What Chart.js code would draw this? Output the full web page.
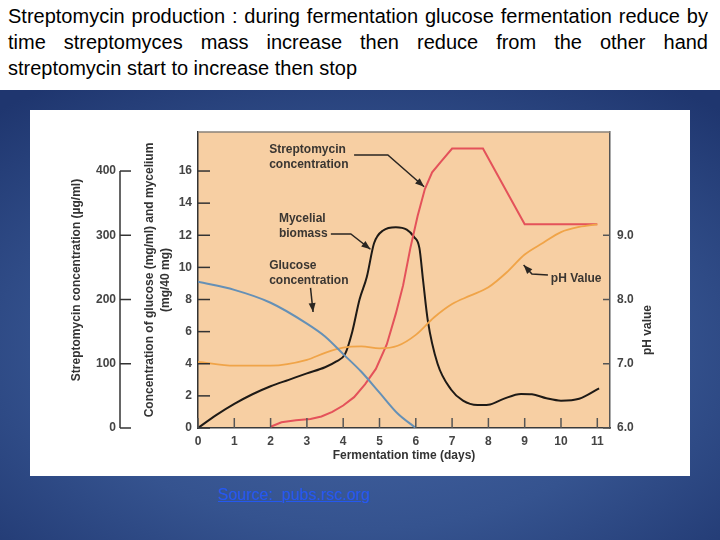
<!DOCTYPE html>
<html>
<head>
<meta charset="utf-8">
<script src="https://cdn.jsdelivr.net/npm/chart.js@4.4.1/dist/chart.umd.min.js"></script>
<style>
  html, body { margin: 0; padding: 0; width: 720px; height: 540px; overflow: hidden; background: #fff; font-family: "Liberation Sans", Arial, sans-serif; }
  #title { position: absolute; left: 8px; top: 3px; width: 700px; font-size: 20px; line-height: 26px; color: #000; }
  #title .j { text-align: justify; text-align-last: justify; }
  #panel { position: absolute; left: 0; top: 90px; width: 720px; height: 450px;
    background: radial-gradient(ellipse 75% 72% at 50% 58%, #4666a6 0%, #35538f 55%, #1f366f 100%); }
  #box { position: absolute; left: 30px; top: 110px; width: 660px; height: 366px; background: #fff; }
  #src { position: absolute; left: 218px; top: 486px; font-size: 16px; color: #2458f0; text-decoration: underline; }
</style>
</head>
<body>
<div id="title">
  <div class="j">Streptomycin production : during fermentation glucose fermentation reduce by</div>
  <div class="j">time streptomyces mass increase then reduce from the other hand</div>
  <div>streptomycin start to increase then stop</div>
</div>
<div id="panel"></div>
<div id="box"><canvas id="chart" width="660" height="366"></canvas></div>
<div id="src">Source:&nbsp; pubs.rsc.org</div>

<script>
// fermentation time (days) and values
const glucoseDays = [0, 1, 2, 3, 3.5, 4, 4.5, 5, 5.5, 6];
const glucose = [9.1, 8.6, 7.8, 6.5, 5.7, 4.6, 3.5, 2.2, 0.9, 0];

const biomassDays = [0, 0.5, 1, 1.5, 2, 2.5, 3, 3.5, 3.8, 4.05, 4.25, 4.45, 4.65, 4.85, 5.1, 5.45, 5.75, 5.95, 6.1, 6.2, 6.33, 6.6, 6.97, 7.3, 7.7, 8, 8.4, 8.9, 9.2, 9.6, 10, 10.5, 11.05];
const biomass = [0, 0.8, 1.5, 2.1, 2.6, 3.0, 3.4, 3.78, 4.13, 4.6, 6.0, 8.0, 9.4, 11.5, 12.3, 12.5, 12.35, 11.9, 11.2, 9.2, 6.7, 4.0, 2.4, 1.7, 1.43, 1.45, 1.8, 2.12, 2.1, 1.85, 1.7, 1.82, 2.47];

const phDays = [0, 1, 2, 3, 3.5, 4, 4.5, 5, 5.5, 6, 6.5, 7, 7.5, 8, 8.5, 9, 9.5, 10, 10.5, 11];
const ph = [7.03, 6.97, 6.97, 7.06, 7.17, 7.25, 7.27, 7.24, 7.28, 7.45, 7.72, 7.93, 8.06, 8.19, 8.42, 8.7, 8.88, 9.05, 9.13, 9.17];

const strepDays = [2.0, 2.3, 2.7, 3.1, 3.4, 3.7, 4.0, 4.3, 4.6, 4.9, 5.2, 5.45, 5.65, 5.85, 6.05, 6.25, 6.45, 6.7, 7.0, 7.85, 9.0, 11.0];
const strep = [2, 9, 12, 14, 18, 25, 35, 48, 68, 92, 130, 178, 222, 280, 330, 372, 398, 415, 435, 435, 317, 317];

// tick labels
const dayTicks = [0, 1, 2, 3, 4, 5, 6, 7, 8, 9, 10, 11];
const glucoseTicks = [0, 2, 4, 6, 8, 10, 12, 14, 16];
const strepTicks = [0, 100, 200, 300, 400];
const phTicks = [6, 7, 8, 9];

// the three y scales share one grid: 16 units = 400 ug/ml, pH = 6 + units/4
const gMax = 18.43;
const strepMax = gMax * 25;
const phMax = 6 + gMax / 4;

// callouts, placed in (day, glucose-scale) units
const notes = [
  { lines: ['Streptomycin', 'concentration'], at: [1.96, 17.31], path: [[4.30, 17.0], [5.23, 17.0], [6.23, 15.02]] },
  { lines: ['Mycelial', 'biomass'], at: [2.23, 13.01], path: [[3.66, 12.08], [4.21, 12.08], [4.75, 11.13]] },
  { lines: ['Glucose', 'concentration'], at: [1.96, 10.09], path: [[3.10, 8.72], [3.17, 7.22]] },
  { lines: ['pH Value'], at: [9.72, 9.28], path: [[9.64, 9.53], [9.20, 9.59], [8.97, 10.15]] }
];

const pts = (xs, ys) => xs.map((d, i) => ({ x: d, y: ys[i] }));
const FONT = '"Liberation Sans", Arial, sans-serif';
Chart.defaults.font.family = FONT;

const tickFont = { size: 12, weight: 'bold' };
const titleFont = { size: 12, weight: 'bold', lineHeight: 1.33 };

function line(ctx, x1, y1, x2, y2) {
  ctx.beginPath();
  ctx.moveTo(x1, y1);
  ctx.lineTo(x2, y2);
  ctx.stroke();
}

const framePlugin = {
  id: 'frame',
  beforeDraw(chart) {
    const { ctx, chartArea: a } = chart;
    ctx.save();
    ctx.fillStyle = '#f7cfa3';
    ctx.fillRect(a.left, a.top, a.right - a.left, a.bottom - a.top);
    ctx.restore();
  },
  afterDraw(chart) {
    const { ctx, chartArea: a } = chart;
    const { x, yG, yP, yS } = chart.scales;
    ctx.save();
    // top edge of the plot
    ctx.strokeStyle = '#8a8278';
    ctx.lineWidth = 1.5;
    line(ctx, a.left, a.top, a.right, a.top);

    // inward tick marks
    ctx.strokeStyle = '#333';
    yG.ticks.forEach(t => { const y = yG.getPixelForValue(t.value); line(ctx, a.left, y, a.left + 12, y); });
    ctx.strokeStyle = '#555';
    yP.ticks.forEach(t => { const y = yP.getPixelForValue(t.value); line(ctx, a.right - 7, y, a.right, y); });
    x.ticks.forEach(t => { const px = x.getPixelForValue(t.value); line(ctx, px, a.bottom, px, a.bottom - 10); });

    // streptomycin axis: a free-standing bar from 0 to 400
    ctx.strokeStyle = '#333';
    const sx = yS.right - 10;
    line(ctx, sx, yS.getPixelForValue(strepTicks[0]), sx, yS.getPixelForValue(strepTicks[strepTicks.length - 1]));
    yS.ticks.forEach(t => { const y = yS.getPixelForValue(t.value); line(ctx, sx, y, sx + 11, y); });

    // pH title reads bottom to top
    ctx.fillStyle = '#333';
    ctx.font = 'bold 12px ' + FONT;
    ctx.textAlign = 'center';
    ctx.textBaseline = 'middle';
    ctx.translate(yP.right - 42, (a.top + a.bottom) / 2 + 50);
    ctx.rotate(-Math.PI / 2);
    ctx.fillText('pH value', 0, 0);
    ctx.restore();
  }
};

const notePlugin = {
  id: 'notes',
  afterDatasetsDraw(chart) {
    const { ctx } = chart;
    const { x, yG } = chart.scales;
    ctx.save();
    ctx.font = 'bold 12px ' + FONT;
    ctx.fillStyle = '#3a3632';
    ctx.textAlign = 'left';
    ctx.textBaseline = 'middle';
    ctx.strokeStyle = '#2a2622';
    ctx.lineWidth = 1.5;
    notes.forEach(n => {
      const tx = x.getPixelForValue(n.at[0]);
      const ty = yG.getPixelForValue(n.at[1]);
      n.lines.forEach((s, i) => ctx.fillText(s, tx, ty + i * 14.5));
      const p = n.path.map(q => [x.getPixelForValue(q[0]), yG.getPixelForValue(q[1])]);
      ctx.beginPath();
      ctx.moveTo(p[0][0], p[0][1]);
      p.slice(1).forEach(q => ctx.lineTo(q[0], q[1]));
      ctx.stroke();
      // arrow head at the last point
      const [x1, y1] = p[p.length - 2];
      const [x2, y2] = p[p.length - 1];
      const ang = Math.atan2(y2 - y1, x2 - x1);
      ctx.beginPath();
      ctx.moveTo(x2, y2);
      ctx.lineTo(x2 - 9 * Math.cos(ang) + 3.5 * Math.sin(ang), y2 - 9 * Math.sin(ang) - 3.5 * Math.cos(ang));
      ctx.lineTo(x2 - 9 * Math.cos(ang) - 3.5 * Math.sin(ang), y2 - 9 * Math.sin(ang) + 3.5 * Math.cos(ang));
      ctx.closePath();
      ctx.fillStyle = '#2a2622';
      ctx.fill();
      ctx.fillStyle = '#3a3632';
    });
    ctx.restore();
  }
};

const ctx = document.getElementById('chart').getContext('2d');
new Chart(ctx, {
  type: 'line',
  data: {
    datasets: [
      { label: 'Glucose concentration', data: pts(glucoseDays, glucose), yAxisID: 'yG',
        borderColor: '#6590b6', borderWidth: 2, pointRadius: 0, cubicInterpolationMode: 'monotone' },
      { label: 'pH value', data: pts(phDays, ph), yAxisID: 'yP',
        borderColor: '#f0a448', borderWidth: 1.8, pointRadius: 0, cubicInterpolationMode: 'monotone' },
      { label: 'Streptomycin concentration', data: pts(strepDays, strep), yAxisID: 'yS',
        borderColor: '#e4525a', borderWidth: 2, pointRadius: 0, tension: 0 },
      { label: 'Mycelial biomass', data: pts(biomassDays, biomass), yAxisID: 'yG',
        borderColor: '#1e1a16', borderWidth: 2, pointRadius: 0, cubicInterpolationMode: 'monotone' }
    ]
  },
  options: {
    responsive: false,
    animation: false,
    devicePixelRatio: 1,
    layout: { padding: { top: 22, left: 0, right: 0, bottom: 0 } },
    plugins: { legend: { display: false }, tooltip: { enabled: false } },
    scales: {
      x: {
        type: 'linear', position: 'bottom', min: 0, max: 11.35,
        afterBuildTicks: s => { s.ticks = dayTicks.map(v => ({ value: v })); },
        afterFit: s => { s.height = 48; },
        ticks: { font: tickFont, color: '#444', padding: 6, maxRotation: 0, callback: v => String(v) },
        grid: { display: false, drawTicks: false },
        border: { color: '#3a3a3a', width: 1.5 },
        title: { display: true, text: 'Fermentation time (days)', font: { size: 12, weight: 'bold', lineHeight: 1.2 }, color: '#333', padding: { top: 0, bottom: 13 } }
      },
      yS: {
        type: 'linear', position: 'left', weight: 1, min: 0, max: strepMax,
        afterBuildTicks: s => { s.ticks = strepTicks.map(v => ({ value: v })); },
        afterFit: s => { s.width = 100; },
        ticks: { font: tickFont, color: '#444', padding: 14, callback: v => String(v) },
        grid: { display: false, drawTicks: false },
        border: { display: false },
        title: { display: true, text: 'Streptomycin concentration (\u00b5g/ml)', font: { size: 12, weight: 'bold', lineHeight: 1.2 }, color: '#333', padding: { top: 39, bottom: 0 } }
      },
      yG: {
        type: 'linear', position: 'left', weight: 0, min: 0, max: gMax,
        afterBuildTicks: s => { s.ticks = glucoseTicks.map(v => ({ value: v })); },
        afterFit: s => { s.width = 68; },
        ticks: { font: tickFont, color: '#444', padding: 6, callback: v => String(v) },
        grid: { display: false, drawTicks: false },
        border: { color: '#333', width: 1.5 },
        title: { display: true, text: ['Concentration of glucose (mg/ml) and mycelium', '(mg/40 mg)'], font: titleFont, color: '#333', padding: { top: 12, bottom: 0 } }
      },
      yP: {
        type: 'linear', position: 'right', min: 6, max: phMax,
        afterBuildTicks: s => { s.ticks = phTicks.map(v => ({ value: v })); },
        afterFit: s => { s.width = 80; },
        ticks: { font: tickFont, color: '#444', padding: 7, callback: v => Number(v).toFixed(1) },
        grid: { display: false, drawTicks: false },
        border: { color: '#555', width: 1.5 }
      }
    }
  },
  plugins: [framePlugin, notePlugin]
});
</script>
</body>
</html>
